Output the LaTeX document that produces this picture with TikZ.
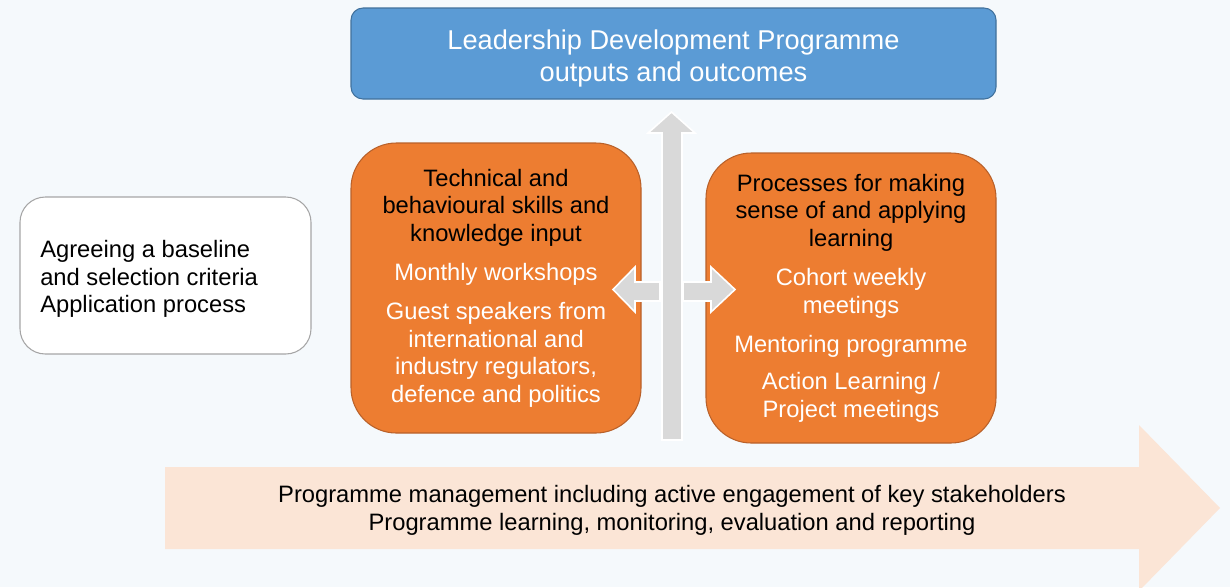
\documentclass[tikz,border=0pt]{standalone}
\usepackage{fontspec}
\setmainfont{Liberation Sans}
\definecolor{bgcol}{HTML}{F5F9FC}
\definecolor{bluefill}{HTML}{5B9BD5}
\definecolor{blueline}{HTML}{41719C}
\definecolor{orangefill}{HTML}{ED7D31}
\definecolor{orangeline}{HTML}{B9612A}
\definecolor{arrowgray}{HTML}{D9D9D9}
\definecolor{peach}{HTML}{FBE5D6}
\newcommand{\boxhead}[1]{\textcolor{black}{#1}}

\begin{document}
\begin{tikzpicture}[x=0.75pt,y=-0.75pt,
    boxtext/.style={font=\fontsize{17.8}{20.7}\selectfont, align=center},
    orangebox/.style={draw=orangeline, fill=orangefill, line width=0.8pt, rounded corners=34pt,
        minimum width=217.5pt, minimum height=217.5pt, inner sep=0pt, text=white, boxtext},
    blockarrow/.style={fill=arrowgray, draw=white, line width=1.2pt, line join=miter}
]
    % background
    \useasboundingbox (0,0) rectangle (1230,587);
    \fill[bgcol] (0,0) rectangle (1230,587);
    \clip (0,0) rectangle (1230,587);

    % draw big arrow at the bottom
    \fill[peach] (165,467) -- (1139,467) -- (1139,425) -- (1220,508) -- (1139,591)
        -- (1139,549) -- (165,549) -- cycle;
    \node[boxtext, font=\fontsize{17.8}{21}\selectfont] (mgmt) at (672,510)
        {Programme management including active engagement of key stakeholders\\
         Programme learning, monitoring, evaluation and reporting};

    % draw boxes
    \node[draw=blueline, fill=bluefill, line width=0.8pt, rounded corners=9pt, inner sep=0pt,
        minimum width=483.75pt, minimum height=68.25pt] (outcomes) at (673.5,53.5) {};
    \node[text=white, align=center, font=\fontsize{20.4}{24}\selectfont] (outcomestext)
        at (673.5,58.5) {Leadership Development Programme\\outputs and outcomes};

    \node[draw=black!35, fill=white, line width=0.8pt, rounded corners=19pt, inner sep=0pt,
        minimum width=218.25pt, minimum height=117.75pt] (baseline) at (165.5,275.5) {};
    \node[boxtext, align=left, anchor=west, inner sep=0pt] (baselinetext) at (40,279)
        {Agreeing a baseline\\and selection criteria\\Application process};

    \node[orangebox] (skills) at (496,288)
        {\boxhead{Technical and}\\\boxhead{behavioural skills and}\\\boxhead{knowledge input}\\[8.6pt]
         Monthly workshops\\[8.6pt]
         Guest speakers from\\international and\\industry regulators,\\defence and politics};
    \node[orangebox] (sense) at (851,298)
        {\boxhead{Processes for making}\\\boxhead{sense of and applying}\\\boxhead{learning}\\[8.6pt]
         Cohort weekly\\meetings\\[9pt]
         Mentoring programme\\[7pt]
         Action Learning /\\Project meetings};

    % draw gray arrows
    \draw[blockarrow] (662,440) -- (662,133) -- (648,133) -- (671.5,112) -- (695,133)
        -- (682,133) -- (682,440) -- cycle;
    \draw[blockarrow] (660,282) -- (635,282) -- (635,267) -- (613,289.5) -- (635,312)
        -- (635,301) -- (660,301) -- cycle;
    \draw[blockarrow] (683,282) -- (711,282) -- (711,267) -- (735,289.5) -- (711,312)
        -- (711,301) -- (683,301) -- cycle;
\end{tikzpicture}
\end{document}
